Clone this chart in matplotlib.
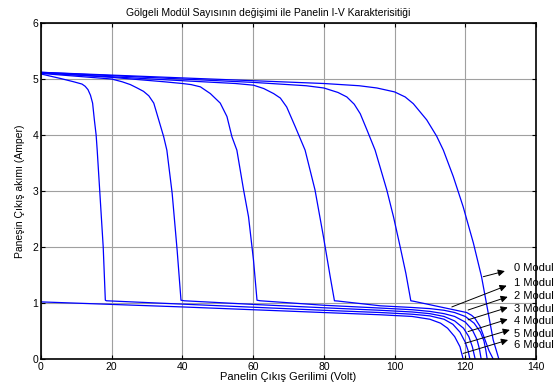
import matplotlib
matplotlib.use("Agg")
import matplotlib.pyplot as plt

# I-V curves, one per number of shaded modules
v_mod0 = [0, 20, 40, 60, 80, 90, 95, 100, 103, 105.3, 109.1, 111.9, 113.8, 116.6, 119.4, 122.3, 124.6, 126.0, 127.9, 129.5]
i_mod0 = [5.12, 5.07, 5.02, 4.97, 4.92, 4.88, 4.84, 4.77, 4.68, 4.56, 4.27, 3.98, 3.73, 3.26, 2.72, 2.07, 1.47, 0.99, 0.34, 0.0]

v_mod1 = [0, 20, 40, 60, 75, 80, 84, 86.5, 88.6, 90.3, 92.2, 94.5, 97.8, 99.7, 101.6, 103.2, 104.6,
          105.5, 120.4, 121.8, 122.7, 124.2, 125.6, 126.7, 127.9]
i_mod1 = [5.12, 5.06, 5.0, 4.94, 4.88, 4.84, 4.76, 4.68, 4.55, 4.38, 4.09, 3.73, 3.02, 2.54, 2.0, 1.53, 1.04,
          1.03, 0.83, 0.78, 0.73, 0.58, 0.34, 0.15, 0.0]

v_mod2 = [0, 20, 40, 55, 60.1, 63, 65.8, 67.7, 69.5, 71.9, 74.7, 77.5, 79.9, 81.8, 83.0,
          84.0, 96, 105, 110, 114, 117, 120, 122.5, 124.3, 125.3, 125.8, 126.2]
i_mod2 = [5.11, 5.04, 4.97, 4.92, 4.89, 4.83, 4.74, 4.66, 4.5, 4.15, 3.73, 3.02, 2.18, 1.47, 1.04,
          1.035, 0.95, 0.92, 0.9, 0.87, 0.83, 0.76, 0.64, 0.48, 0.32, 0.16, 0.0]

v_mod3 = [0, 20, 35, 40, 42.5, 45.1, 47.9, 50.7, 52.6, 54.0, 55.4, 57.3, 58.7, 60.1, 61.1,
          62.0, 80, 96, 105, 110, 114, 117, 120, 122, 123.3, 124.0, 124.5]
i_mod3 = [5.11, 5.03, 4.95, 4.92, 4.9, 4.86, 4.74, 4.57, 4.33, 3.97, 3.73, 3.02, 2.54, 1.77, 1.05,
          1.04, 0.96, 0.91, 0.88, 0.85, 0.81, 0.76, 0.66, 0.52, 0.35, 0.18, 0.0]

v_mod4 = [0, 10, 20, 23, 25.3, 27.2, 29, 30.5, 31.9, 33.3, 34.7, 35.6, 37.1, 38.5, 39.6,
          40.5, 60, 80, 96, 105, 110, 114, 117, 119.5, 121, 122, 122.8]
i_mod4 = [5.1, 5.05, 5.0, 4.95, 4.9, 4.84, 4.78, 4.7, 4.57, 4.27, 3.97, 3.73, 2.96, 1.95, 1.05,
          1.04, 0.975, 0.915, 0.87, 0.84, 0.81, 0.76, 0.68, 0.55, 0.40, 0.22, 0.0]

v_mod5 = [0, 5.5, 9.3, 11.6, 12.5, 13.3, 14.0, 14.6, 15.1, 15.6, 15.9, 16.6, 17.6, 18.2,
          18.5, 40, 60, 80, 96, 105, 110, 114, 116.5, 118.5, 120, 120.8, 121.3]
i_mod5 = [5.09, 5.01, 4.95, 4.91, 4.87, 4.81, 4.71, 4.57, 4.27, 4.0, 3.73, 3.02, 2.0, 1.05,
          1.04, 0.98, 0.925, 0.87, 0.83, 0.80, 0.77, 0.71, 0.62, 0.48, 0.30, 0.15, 0.0]

v_mod6 = [0, 20, 40, 60, 80, 96, 105, 110, 113, 115, 117, 118.5, 119.4]
i_mod6 = [1.02, 0.975, 0.93, 0.88, 0.83, 0.79, 0.76, 0.71, 0.64, 0.55, 0.40, 0.22, 0.0]

curves = [(v_mod0, i_mod0), (v_mod1, i_mod1), (v_mod2, i_mod2), (v_mod3, i_mod3),
          (v_mod4, i_mod4), (v_mod5, i_mod5), (v_mod6, i_mod6)]

labels = ['0 Modul', '1 Modul', '2 Modul', '3 Modul', '4 Modul', '5 Modul', '6 Modul']
# arrow tail (on curve) and head (near label), data coordinates
arrow_tail = [(125.1, 1.47), (116.2, 0.93), (120.8, 0.875), (120.8, 0.70),
              (120.8, 0.49), (119.9, 0.28), (119.4, 0.10)]
arrow_head = [(131.2, 1.57), (131.7, 1.31), (132.0, 1.11), (132.0, 0.92),
              (132.0, 0.71), (132.6, 0.52), (132.1, 0.34)]
label_y = [1.62, 1.36, 1.12, 0.89, 0.67, 0.44, 0.25]

x_ticks = [0, 20, 40, 60, 80, 100, 120, 140]
y_ticks = [0, 1, 2, 3, 4, 5, 6]

plt.rcParams['font.family'] = ['Liberation Sans', 'DejaVu Sans']

fig = plt.figure(figsize=(5.56, 3.85), dpi=100)
ax = fig.add_axes([0.0737, 0.0675, 0.8903, 0.8727])

for v, i in curves:
    ax.plot(v, i, color='#0000ff', lw=0.9)

for lab, t, h, ly in zip(labels, arrow_tail, arrow_head, label_y):
    ax.annotate('', xy=h, xytext=t,
                arrowprops=dict(arrowstyle='-|>', color='k', lw=0.7,
                                mutation_scale=10, shrinkA=0, shrinkB=0))
    ax.text(133.8, ly, lab, fontsize=8, ha='left', va='center', clip_on=False)

ax.set_xlim(0, 140)
ax.set_ylim(0, 6)
ax.set_xticks(x_ticks)
ax.set_yticks(y_ticks)
ax.grid(True, color='#a0a0a0', lw=0.8)
ax.set_axisbelow(True)
ax.tick_params(direction='in', length=3, width=0.8, labelsize=7.5,
               top=True, right=True, pad=2)
for s in ax.spines.values():
    s.set_linewidth(1.2)

# title sits a bit left of the axes centre in the original
ax.set_title('Gölgeli Modül Sayısının değişimi ile Panelin I-V Karakterisitiği',
             fontsize=7.5, pad=5, x=0.458)
ax.set_xlabel('Panelin Çıkış Gerilimi (Volt)', fontsize=8, labelpad=0)
ax.set_ylabel('Paneşin Çıkış akımı (Amper)', fontsize=7.5, labelpad=5)

fig.savefig('out.png', dpi=100)
